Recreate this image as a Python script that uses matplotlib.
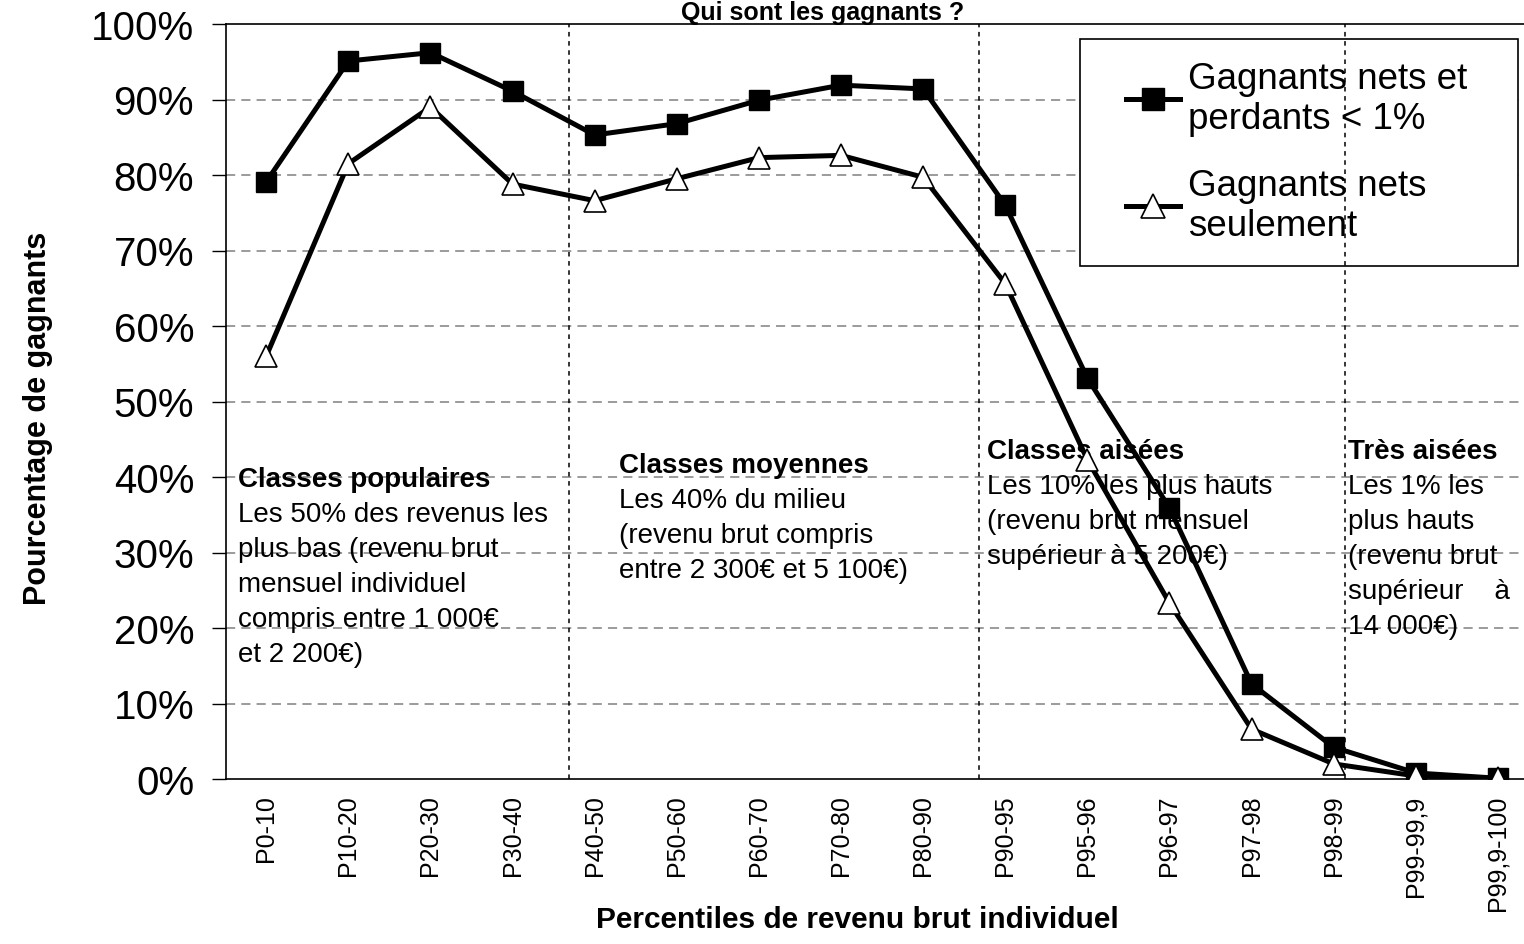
import matplotlib as mpl
mpl.use('Agg')
import matplotlib.pyplot as plt
from matplotlib.patches import Rectangle

plt.rcParams['font.family'] = ['Liberation Sans', 'DejaVu Sans']

categories = ['P0-10', 'P10-20', 'P20-30', 'P30-40', 'P40-50', 'P50-60',
              'P60-70', 'P70-80', 'P80-90', 'P90-95', 'P95-96', 'P96-97',
              'P97-98', 'P98-99', 'P99-99,9', 'P99,9-100']
gagnants_et_perdants = [79.1, 95.1, 96.2, 91.1, 85.3, 86.8, 89.9, 91.9, 91.4,
                        76.0, 53.1, 35.9, 12.6, 4.2, 0.8, 0.1]
gagnants_seuls = [56.0, 81.5, 89.0, 78.8, 76.6, 79.5, 82.3, 82.6, 79.7,
                  65.6, 42.3, 23.3, 6.6, 2.0, 0.4, 0.1]
labels = ['Gagnants nets et\nperdants < 1%', 'Gagnants nets\nseulement']

# group separators (in category units) and the text blocks
separators = [3.69, 8.68, 13.14]
blocks = [
    (-0.34, 39.7, ['Classes populaires', 'Les 50% des revenus les',
                   'plus bas (revenu brut', 'mensuel individuel',
                   'compris entre 1 000€', 'et 2 200€)']),
    (4.29, 41.6, ['Classes moyennes', 'Les 40% du milieu',
                  '(revenu brut compris', 'entre 2 300€ et 5 100€)']),
    (8.78, 43.4, ['Classes aisées', 'Les 10% les plus hauts',
                  '(revenu brut mensuel', 'supérieur à 5 200€)']),
    (13.18, 43.4, ['Très aisées', 'Les 1% les', 'plus hauts',
                   '(revenu brut', 'supérieur    à', '14 000€)']),
]

W, H = 1524, 945
fig = plt.figure(figsize=(W / 100, H / 100), dpi=100)
ax = fig.add_axes([226 / W, 1 - 780 / H, (1539 - 226) / W, 755 / H])

x = list(range(len(categories)))
ax.plot(x, gagnants_et_perdants, color='black', lw=3.6, marker='s',
        markersize=15, markerfacecolor='black', markeredgecolor='black',
        label=labels[0], zorder=5)
ax.plot(x, gagnants_seuls, color='black', lw=3.6, marker='^',
        markersize=16, markerfacecolor='white', markeredgecolor='black',
        markeredgewidth=1.2, label=labels[1], zorder=5)

ax.set_xlim(-0.49, 15.5)
ax.set_ylim(0, 100)
ax.set_yticks(range(0, 101, 10))
ax.set_yticklabels(['%d%%' % v for v in range(0, 101, 10)], fontsize=29)
ax.tick_params(axis='y', direction='out', length=10, width=1, pad=13)
ax.set_xticks(x)
ax.set_xticklabels(categories, rotation=90, fontsize=18)
ax.tick_params(axis='x', length=0, pad=11)

for v in range(10, 100, 10):
    ax.axhline(v, color='#808080', lw=1.1, ls=(0, (6, 4)), zorder=1)
for s in separators:
    ax.axvline(s, color='black', lw=1.1, ls=(0, (3, 3)), zorder=6)
for sp in ax.spines.values():
    sp.set_linewidth(1.2)

step = 4.64
for bx, by, lines in blocks:
    for i, line in enumerate(lines):
        ax.text(bx, by - i * step, line, fontsize=20, va='center', ha='left',
                weight='bold' if i == 0 else 'normal', zorder=3)

frame = Rectangle((1080 / W, 1 - 267 / H), 438 / W, 227 / H,
                  transform=fig.transFigure, facecolor='white',
                  edgecolor='black', lw=1.2, zorder=4, clip_on=False)
ax.add_patch(frame)
leg = ax.legend(loc='upper left', bbox_to_anchor=(1126 / W, 1 - 62 / H),
                bbox_transform=fig.transFigure, frameon=False, fontsize=26.5,
                borderpad=0, borderaxespad=0, handlelength=1.47,
                handletextpad=0.22, labelspacing=0.85, markerscale=1.1)
for t in leg.get_texts():
    t.set_linespacing(1.2)
leg.set_zorder(5)

fig.text(823 / W, 1 - 1 / H, 'Qui sont les gagnants ?', ha='center',
         va='top', fontsize=18, weight='bold')
fig.text(857 / W, 1 - 920 / H, 'Percentiles de revenu brut individuel',
         ha='center', va='center', fontsize=21.5, weight='bold')
fig.text(38 / W, 1 - 418 / H, 'Pourcentage de gagnants', ha='center',
         va='center', rotation=90, fontsize=22, weight='bold')

fig.savefig('out.png', dpi=100)
